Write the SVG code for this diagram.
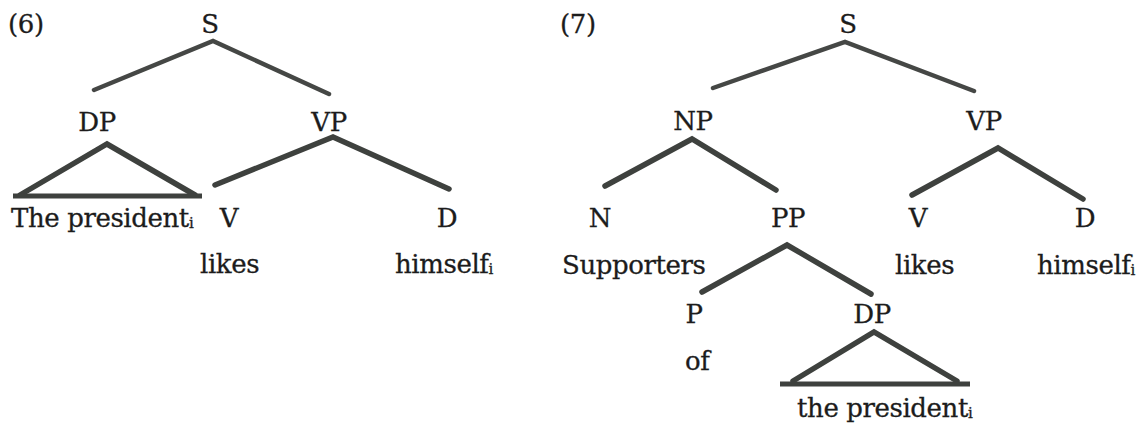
<svg xmlns="http://www.w3.org/2000/svg" width="1141" height="425" viewBox="0 0 1141 425">
<style>
text{font-family:"DejaVu Serif",serif;font-size:26px;fill:#1c1c1c;stroke:#1c1c1c;stroke-width:0.3;letter-spacing:-0.4px}
.c{text-anchor:middle}
.sub{font-size:15px;letter-spacing:0}
.e{fill:none;stroke:#3e413e;stroke-width:5.5;stroke-linecap:round;stroke-linejoin:miter}
.t{stroke-width:4.5;stroke:#454745}
.b{fill:none;stroke:#3e413e;stroke-width:5;stroke-linecap:butt}
</style>
<rect width="1141" height="425" fill="#ffffff"/>
<g id="connectors">
<polyline class="e t" points="94,90 213,41 329,94"/>
<path class="e" d="M20,195 L107,144 L195,195"/>
<line class="b" x1="13" y1="196" x2="202" y2="196"/>
<polyline class="e" points="215,185 333,137 449,189"/>
<polyline class="e t" points="713,88 845,42 974,91"/>
<polyline class="e" points="605,186 692,139 776,190"/>
<polyline class="e" points="702,292 787,245 871,294"/>
<polyline class="e" points="912,195 998,148 1083,199"/>
<path class="e" d="M793,381 L874,332 L957,381"/>
<line class="b" x1="780" y1="384" x2="970" y2="384"/>
</g>
<g id="label6"><text x="8" y="33">(6)</text></g>
<g id="S1"><text class="c" x="210" y="33">S</text></g>
<g id="DP1"><text class="c" x="97" y="131">DP</text></g>
<g id="VP1"><text class="c" x="329" y="131">VP</text></g>
<g id="president1"><text x="11" y="227">The president<tspan class="sub" dy="1">i</tspan></text></g>
<g id="V1"><text class="c" x="229" y="227">V</text></g>
<g id="D1"><text class="c" x="447" y="227">D</text></g>
<g id="likes1"><text x="200" y="273">likes</text></g>
<g id="himself1"><text x="395" y="273">himself<tspan class="sub" dy="1">i</tspan></text></g>
<g id="label7"><text x="560" y="33">(7)</text></g>
<g id="S2"><text class="c" x="848" y="33">S</text></g>
<g id="NP2"><text class="c" x="693" y="130">NP</text></g>
<g id="VP2"><text class="c" x="984" y="130">VP</text></g>
<g id="N2"><text class="c" x="600" y="227">N</text></g>
<g id="PP2"><text class="c" x="788" y="227">PP</text></g>
<g id="V2"><text class="c" x="918" y="227">V</text></g>
<g id="D2"><text class="c" x="1085" y="227">D</text></g>
<g id="supporters2"><text x="562" y="274">Supporters</text></g>
<g id="likes2"><text x="895" y="274">likes</text></g>
<g id="himself2"><text x="1037" y="274">himself<tspan class="sub" dy="1">i</tspan></text></g>
<g id="P2"><text class="c" x="694" y="323">P</text></g>
<g id="DP2"><text class="c" x="872" y="323">DP</text></g>
<g id="of2"><text x="685" y="370">of</text></g>
<g id="president2"><text x="797" y="417">the president<tspan class="sub" dy="1">i</tspan></text></g>
</svg>
